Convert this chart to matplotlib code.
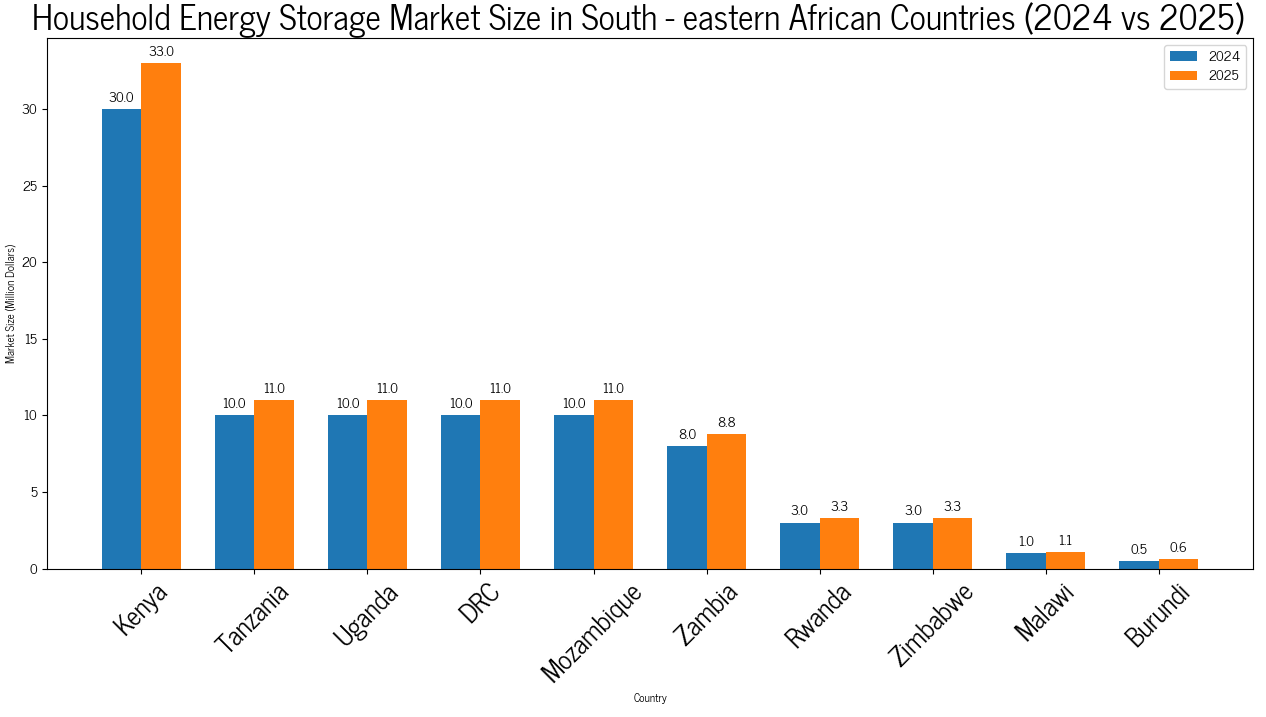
import matplotlib
matplotlib.use("Agg")
import matplotlib.pyplot as plt
import numpy as np

countries = ["Kenya", "Tanzania", "Uganda", "DRC", "Mozambique", "Zambia",
             "Rwanda", "Zimbabwe", "Malawi", "Burundi"]
values_2024 = [30.0, 10.0, 10.0, 10.0, 10.0, 8.0, 3.0, 3.0, 1.0, 0.5]
values_2025 = [33.0, 11.0, 11.0, 11.0, 11.0, 8.8, 3.3, 3.3, 1.1, 0.6]

plt.rcParams['font.family'] = ['News Cycle', 'DejaVu Sans']

fig, ax = plt.subplots(figsize=(12.66, 7.17), dpi=100)
x = np.arange(len(countries))
w = 0.35
b1 = ax.bar(x - w/2, values_2024, w, label="2024", color="#1f77b4")
b2 = ax.bar(x + w/2, values_2025, w, label="2025", color="#ff7f0e")
for bars in (b1, b2):
    for r in bars:
        h = r.get_height()
        ax.annotate(f"{h:.1f}", xy=(r.get_x() + r.get_width()/2, h),
                    xytext=(0, 3), textcoords="offset points",
                    ha="center", va="bottom", fontsize=10)
ax.set_xticks(x)
ax.set_xticklabels(countries, rotation=45, fontsize=19)
ax.tick_params(axis='y', labelsize=10)
ax.set_xlabel("Country", fontsize=8)
ax.set_ylabel("Market Size (Million Dollars)", fontsize=8)
ax.set_title("Household Energy Storage Market Size in South - eastern African Countries (2024 vs 2025)",
             fontsize=24.5, x=0.49)
ax.legend()
fig.subplots_adjust(left=0.037, right=0.99, top=0.947, bottom=0.207)
fig.savefig("out.png")
